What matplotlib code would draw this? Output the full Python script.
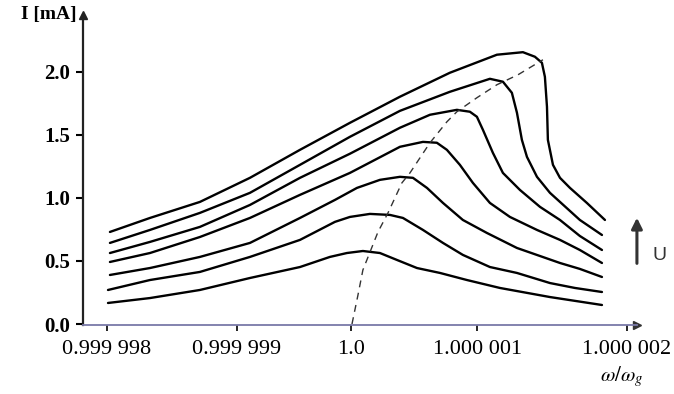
import matplotlib.pyplot as plt

# x: detuning omega/omega_g - 1 in units of 1e-6, y: current I in mA
# one curve per drive voltage U, lowest U first
x_u1 = [-1.992, -1.669, -1.285, -0.900, -0.515, -0.285, -0.154, -0.031, 0.100, 0.231, 0.385, 0.562, 0.769, 1.023, 1.408, 1.808]
i_u1 = [0.167, 0.206, 0.270, 0.365, 0.452, 0.532, 0.563, 0.579, 0.563, 0.508, 0.444, 0.405, 0.349, 0.286, 0.214, 0.151]

x_u2 = [-1.992, -1.669, -1.285, -0.900, -0.515, -0.246, -0.131, 0.023, 0.177, 0.277, 0.431, 0.585, 0.738, 0.946, 1.154, 1.408, 1.600, 1.808]
i_u2 = [0.270, 0.349, 0.413, 0.532, 0.667, 0.810, 0.849, 0.873, 0.865, 0.841, 0.746, 0.643, 0.548, 0.452, 0.405, 0.325, 0.286, 0.254]

x_u3 = [-1.977, -1.669, -1.285, -0.900, -0.515, -0.246, -0.077, 0.100, 0.254, 0.354, 0.462, 0.585, 0.738, 0.923, 1.154, 1.485, 1.638, 1.808]
i_u3 = [0.389, 0.444, 0.532, 0.643, 0.841, 0.984, 1.079, 1.143, 1.167, 1.159, 1.079, 0.960, 0.825, 0.722, 0.603, 0.484, 0.437, 0.373]

x_u4 = [-1.977, -1.669, -1.285, -0.900, -0.515, -0.131, 0.254, 0.431, 0.538, 0.615, 0.715, 0.815, 0.946, 1.100, 1.308, 1.485, 1.638, 1.808]
i_u4 = [0.492, 0.563, 0.690, 0.841, 1.024, 1.198, 1.405, 1.444, 1.437, 1.381, 1.262, 1.119, 0.960, 0.849, 0.746, 0.667, 0.587, 0.484]

x_u5 = [-1.977, -1.669, -1.285, -0.900, -0.515, -0.131, 0.254, 0.485, 0.692, 0.792, 0.846, 0.892, 0.969, 1.046, 1.177, 1.331, 1.485, 1.638, 1.808]
i_u5 = [0.563, 0.651, 0.770, 0.944, 1.159, 1.350, 1.556, 1.659, 1.698, 1.683, 1.643, 1.540, 1.357, 1.198, 1.063, 0.929, 0.825, 0.698, 0.587]

x_u6 = [-1.977, -1.669, -1.285, -0.900, -0.515, -0.131, 0.254, 0.638, 0.946, 1.046, 1.115, 1.154, 1.192, 1.231, 1.308, 1.408, 1.485, 1.638, 1.808]
i_u6 = [0.643, 0.746, 0.881, 1.040, 1.262, 1.484, 1.690, 1.841, 1.944, 1.921, 1.833, 1.675, 1.460, 1.325, 1.167, 1.040, 0.968, 0.825, 0.706]

x_u7 = [-1.977, -1.669, -1.285, -0.900, -0.515, -0.131, 0.254, 0.638, 1.0, 1.200, 1.292, 1.346, 1.369, 1.385, 1.392, 1.431, 1.485, 1.562, 1.692, 1.831]
i_u7 = [0.730, 0.841, 0.968, 1.159, 1.381, 1.595, 1.802, 1.992, 2.135, 2.155, 2.119, 2.071, 1.960, 1.722, 1.460, 1.262, 1.159, 1.079, 0.960, 0.825]

# locus of the maxima (dashed)
x_peak = [-0.115, -0.069, -0.031, 0.085, 0.162, 0.269, 0.331, 0.485, 0.615, 0.692, 0.846, 1.0, 1.162, 1.354]
i_peak = [0.0, 0.230, 0.429, 0.730, 0.881, 1.119, 1.198, 1.437, 1.603, 1.683, 1.794, 1.897, 1.976, 2.095]

xtick_pos = [-2.0, -1.0, -0.12, 0.85, 2.0]
xtick_labels = ['0.999 998', '0.999 999', '1.0', '1.000 001', '1.000 002']
ytick_pos = [0.0, 0.5, 1.0, 1.5, 2.0]
ytick_labels = ['0.0', '0.5', '1.0', '1.5', '2.0']

curves = [(x_u1, i_u1), (x_u2, i_u2), (x_u3, i_u3), (x_u4, i_u4),
          (x_u5, i_u5), (x_u6, i_u6), (x_u7, i_u7)]

plt.rcParams['mathtext.fontset'] = 'stix'

fig = plt.figure(figsize=(6.74, 3.94), dpi=100)
ax = fig.add_axes([0.123, 0.175, 0.822, 0.787])

for cx, cy in curves:
    ax.plot(cx, cy, color='black', lw=1.7, solid_joinstyle='round', solid_capstyle='round')

ax.plot(x_peak, i_peak, color='#333333', lw=1.0, linestyle=(0, (5, 4)))

ax.set_xlim(-2.185, 2.077)
ax.set_ylim(-0.008, 2.45)

ax.spines['top'].set_visible(False)
ax.spines['right'].set_visible(False)
ax.spines['left'].set_linewidth(1.6)
ax.spines['left'].set_color('#222222')
ax.spines['bottom'].set_linewidth(1.3)
ax.spines['bottom'].set_color('#7a7aa8')

# arrow heads on the axes
ax.plot(1, 0, '>', color='#333333', ms=6, transform=ax.transAxes, clip_on=False)
ax.plot(0, 1, '^', color='#222222', ms=6, transform=ax.transAxes, clip_on=False)

ax.set_xticks(xtick_pos)
ax.set_xticklabels(xtick_labels, family='Liberation Serif', fontsize=16)
ax.set_yticks(ytick_pos)
ax.set_yticklabels(ytick_labels, family='Liberation Serif', fontsize=15, fontweight='bold')
ax.tick_params(axis='y', length=5, width=1.5, pad=4)
ax.tick_params(axis='x', length=4, width=1.2, pad=7)

ax.text(-0.012, 1.0, 'I [mA]', transform=ax.transAxes, ha='right', va='center',
        family='Liberation Serif', fontsize=14, fontweight='bold')
ax.text(0.973, -0.165, r'$\omega/\omega_g$', transform=ax.transAxes, ha='center', va='center',
        fontsize=15)

ax.annotate('', xy=(1.0, 0.355), xytext=(1.0, 0.19), xycoords='axes fraction',
            arrowprops=dict(arrowstyle='-|>', color='#333333', lw=2.2, mutation_scale=16))
ax.text(1.04, 0.225, 'U', transform=ax.transAxes, ha='center', va='center',
        family='Liberation Sans', fontsize=14, color='#333333')

fig.savefig('out.png', dpi=100)
